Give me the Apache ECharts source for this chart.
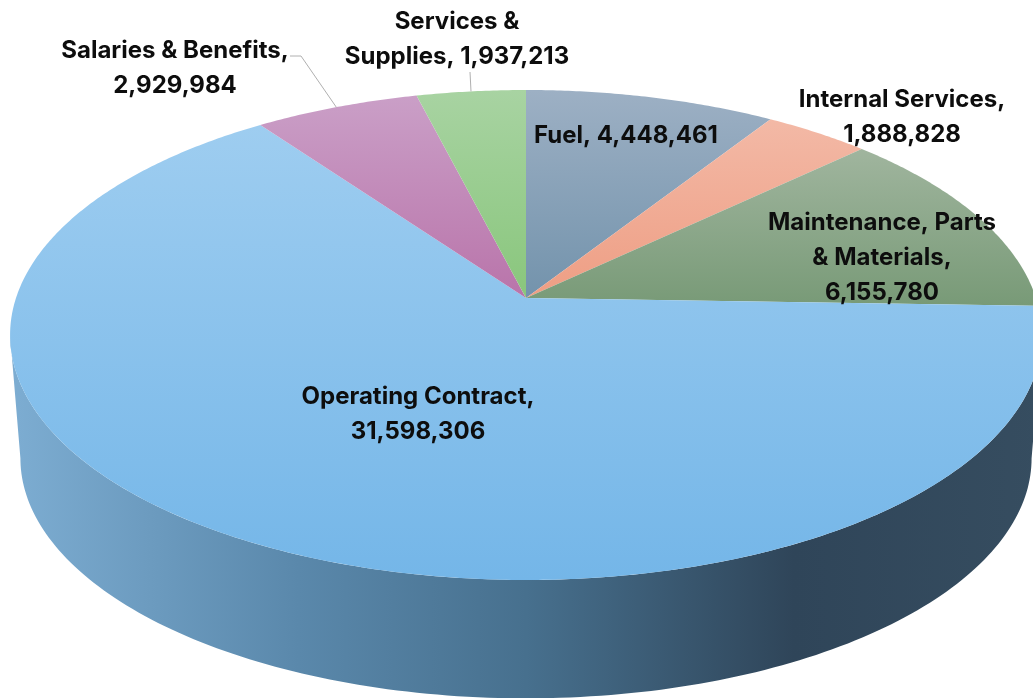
<!DOCTYPE html>
<html>
<head>
<meta charset="utf-8">
<style>html,body{margin:0;padding:0;background:#fff}#c{width:1033px;height:698px;filter:blur(0.45px)}</style>
<script src="https://cdn.jsdelivr.net/npm/echarts@6/dist/echarts.min.js"></script>
</head>
<body>
<div id="c"></div>
<script>
// Data (clockwise from 12 o'clock)
const categories = ['Fuel','Internal Services','Maintenance, Parts & Materials','Operating Contract','Salaries & Benefits','Services & Supplies'];
const values = [4448461,1888828,6155780,31598306,2929984,1937213];

// Label wrapping and styling
const labelWraps = ['Fuel, ','Internal Services,\n','Maintenance, Parts\n& Materials,\n','Operating Contract,\n','Salaries & Benefits,\n','Services &\nSupplies, '];
const labelAnchors = [[626,136],[902,117],[882,258],[418,414],[175,68],[457,39]];
const leaderStarts = [null,null,null,null,[[290,56],[301,56]],[[470,72]]];
const topColors = [['#9db0c4','#7393ac'],['#f3b9a6','#ee9e84'],['#a0b59e','#789a77'],['#9ecdf0','#74b6e8'],['#ca9fc7','#b974aa'],['#a8d3a2','#89c67c']];
const wallStops = [[0,'#7dadd2'],[0.28,'#5a88ab'],[0.5,'#47708e'],[0.76,'#2f4559'],[1,'#364d60']];

// Perspective disc layout
const CX = 526, TOP_CY = 298, BOT_CY = 422, RX = 510, RY = 239.4, P = 0.151, BOT_K = 0.98;
const total = values.reduce((a,b)=>a+b,0);
const starts = []; values.reduce((a,v,i)=>{starts[i]=a; return a+v/total*360;},0);

function rim(deg, cy, k){
  const t = deg*Math.PI/180, s = Math.sin(t), c = Math.cos(t), w = 1+P*c;
  return [CX + k*RX*s/w, cy - k*RY*c/w];
}
const edge = Math.acos(-P)*180/Math.PI;          // silhouette tangent angle

function renderItem(params, api){
  const i = params.dataIndex;
  const a0 = starts[i], a1 = a0 + api.value(0)/total*360;
  const children = [];
  // side wall (only the part of the slice that faces the viewer)
  const w0 = Math.max(a0, edge), w1 = Math.min(a1, 360-edge);
  if (w1 > w0){
    const topArc = [], botArc = [];
    for (let d=w0; d<w1; d+=1){ topArc.push(rim(d,TOP_CY,1)); botArc.push(rim(d,BOT_CY,BOT_K)); }
    topArc.push(rim(w1,TOP_CY,1)); botArc.push(rim(w1,BOT_CY,BOT_K));
    children.push({type:'polygon', z2:0, shape:{points:topArc.concat(botArc.reverse())},
      style:{fill:new echarts.graphic.LinearGradient(0,0,1,0,wallStops.map(s=>({offset:s[0],color:s[1]})))}});
  }
  // top face
  const pts = [[CX,TOP_CY]];
  for (let d=a0; d<a1; d+=0.5) pts.push(rim(d,TOP_CY,1));
  pts.push(rim(a1,TOP_CY,1));
  children.push({type:'polygon', z2:1, shape:{points:pts},
    style:{fill:new echarts.graphic.LinearGradient(0,0,0,1,[{offset:0,color:topColors[i][0]},{offset:1,color:topColors[i][1]}])}});
  // leader line to the slice's rim midpoint
  if (leaderStarts[i]){
    children.push({type:'polyline', z2:2, shape:{points:leaderStarts[i].concat([rim((a0+a1)/2,TOP_CY,1)])},
      style:{fill:null, stroke:'#b0b0b0', lineWidth:1}});
  }
  // label
  children.push({type:'text', z2:3, style:{
    text:labelWraps[i]+values[i].toLocaleString('en-US'),
    x:labelAnchors[i][0], y:labelAnchors[i][1], align:'center', verticalAlign:'middle',
    font:'700 24px "Inter"', lineHeight:35, fill:'#0d0d0d'}});
  return {type:'group', children};
}

const chart = echarts.init(document.getElementById('c'), null, {renderer:'canvas', width:1033, height:698});
chart.setOption({
  animation:false,
  backgroundColor:'#ffffff',
  series:[{type:'custom', coordinateSystem:'none', renderItem, silent:true,
    data:categories.map((name,i)=>({name, value:[values[i]]}))}]
});
</script>
</body>
</html>
